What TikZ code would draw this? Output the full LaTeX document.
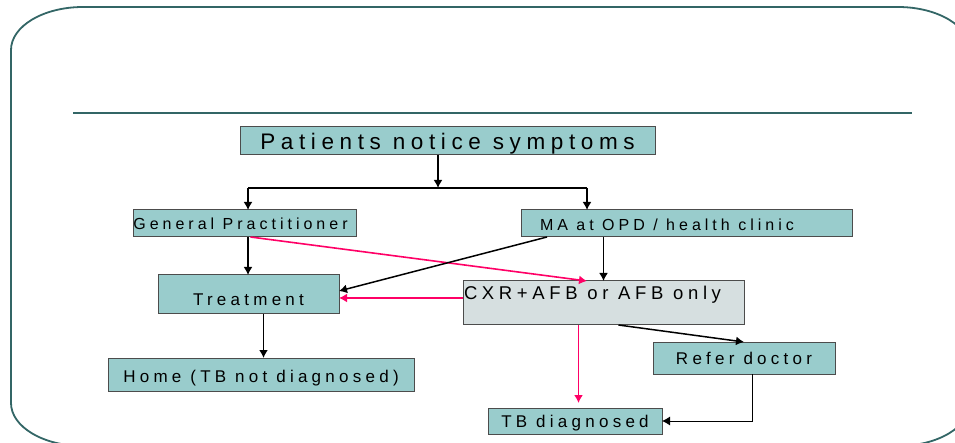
\documentclass[tikz,border=0pt]{standalone}
\usepackage{fontspec}
\setmainfont{Liberation Sans}
\newfontfamily\spaced[LetterSpace=25]{Liberation Sans}
\usetikzlibrary{positioning,arrows.meta}
\definecolor{boxteal}{HTML}{99CCCC}
\definecolor{boxgrey}{HTML}{D6DFE0}
\definecolor{frameteal}{HTML}{336666}
\definecolor{linkred}{HTML}{FF0066}

\begin{document}
\begin{tikzpicture}[>={Latex[length=8pt,width=9pt]},x=1pt,y=-1pt,
	stepbox/.style={anchor=north west,inner sep=0pt,outer sep=0pt,draw=black!70,line width=1pt,fill=boxteal,font=\spaced\fontsize{17}{19}\selectfont},
	link/.style={->,line width=1.8pt},
	redlink/.style={->,line width=1.6pt,draw=linkred,fill=linkred}]
	\useasboundingbox (0,0) rectangle (955,443);
	% frame and rule
	\draw [frameteal,line width=1.8pt] (83,7) -- (898,7) arc[start angle=90,end angle=0,x radius=72,y radius=-43] -- (970,403) arc[start angle=0,end angle=-90,x radius=72,y radius=-43] -- (83,446) arc[start angle=270,end angle=180,x radius=72,y radius=-43] -- (11,50) arc[start angle=180,end angle=90,x radius=72,y radius=-43] -- cycle;
	\draw [frameteal,line width=2.5pt] (73,113) -- (912,113);
	% boxes
	\node [stepbox,minimum width=415pt,text height=23pt,text depth=5pt,font=\spaced\fontsize{22.5}{24}\selectfont] at (240,127) (pat) {Patients notice symptoms};
	\node [stepbox,minimum width=223pt,text height=20pt,text depth=7pt,font=\spaced\fontsize{16}{18}\selectfont] at (133,210) (gp) {\hspace*{-8pt}General Practitioner};
	\node [stepbox,inner xsep=19pt,text height=21pt,text depth=6pt,font=\spaced\fontsize{16}{18}\selectfont] at (521,210) (ma) {\makebox[293pt][l]{MA at OPD / health clinic}};
	\node [stepbox,minimum width=181pt,text height=31pt,text depth=8pt] at (158,275) (trt) {Treatment};
	\node [stepbox,fill=boxgrey,inner xsep=1pt,text height=19pt,text depth=25pt,font=\spaced\fontsize{18.5}{20}\selectfont] at (463,281) (cxr) {\makebox[279pt][l]{CXR+AFB or AFB only}};
	\node [stepbox,minimum width=306pt,text height=24pt,text depth=9pt] at (108,358) (home) {Home (TB not diagnosed)};
	\node [stepbox,minimum width=182pt,text height=22pt,text depth=10pt] at (653,342) (refer) {Refer doctor};
	\node [stepbox,minimum width=174pt,text height=19pt,text depth=7pt] at (488,408) (tbd) {TB diagnosed};
	% fork below first box
	\coordinate (fork) at (438,188);
	\coordinate (forkL) at (248,188);
	\coordinate (forkR) at (587,188);
	\draw [link] (pat.south -| fork) -- (fork);
	\draw [line width=1.2pt] (forkL) -- (forkR);
	\draw [link] (forkL) -- (forkL |- gp.north);
	\draw [link] (forkR) -- (forkR |- ma.north);
	% arrows
	\draw [link] (forkL |- gp.south) -- (forkL |- trt.north);
	\draw [redlink] ([xshift=6pt]gp.south) -- (forkR |- cxr.north);
	\draw [link] (cxr.north |- ma.south) -- (cxr.north);
	\draw [link,line width=1.5pt] ([xshift=26pt]ma.south west) -- ([yshift=3.5pt]trt.east);
	\draw [redlink] ([yshift=-3.5pt]trt.east -| cxr.west) -- ([yshift=-3.5pt]trt.east);
	\draw [link] ([xshift=15pt]trt.south) -- ([xshift=15pt]trt.south |- home.north);
	\draw [link,line width=1.5pt] ([xshift=15pt]cxr.south) -- (refer.north);
	\draw [redlink,shorten >=5pt] ([xshift=-25pt]cxr.south) -- ([xshift=-25pt]cxr.south |- tbd.north);
	\draw [->,line width=0.9pt] ([xshift=8pt]refer.south) |- (tbd.east);
\end{tikzpicture}
\end{document}
